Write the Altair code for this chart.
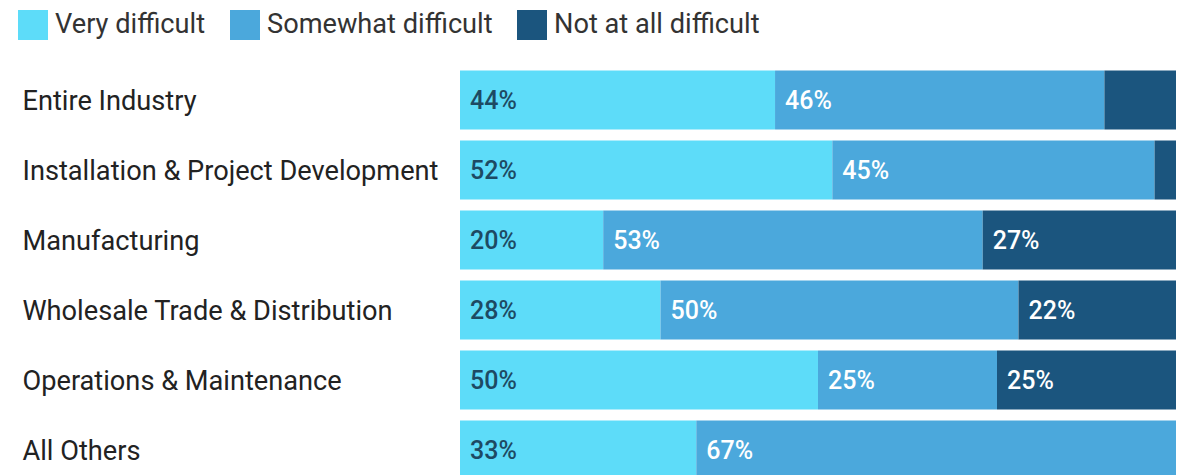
import altair as alt
import pandas as pd

categories = ["Entire Industry", "Installation & Project Development", "Manufacturing",
              "Wholesale Trade & Distribution", "Operations & Maintenance", "All Others"]
series = ["Very difficult", "Somewhat difficult", "Not at all difficult"]
very = [44, 52, 20, 28, 50, 33]
somewhat = [46, 45, 53, 50, 25, 67]
not_at_all = [10, 3, 27, 22, 25, 0]
colors = ["#5ddcf9", "#4ba8dc", "#1b557e"]
text_colors = ["#1d4a63", "#ffffff", "#ffffff"]

rows = []
for i, c in enumerate(categories):
    for j, (s, vals) in enumerate(zip(series, [very, somewhat, not_at_all])):
        v = vals[i]
        rows.append({"category": c, "series": s, "order": j, "value": v,
                     "label": f"{v}%" if v >= 15 else ""})
df = pd.DataFrame(rows)

base = alt.Chart(df).transform_stack(
    stack="value", groupby=["category"], as_=["x0", "x1"],
    sort=[alt.SortField("order", order="ascending")]
)

yenc = alt.Y("category:N", sort=categories, title=None,
             scale=alt.Scale(paddingInner=0.16, paddingOuter=0.08),
             axis=alt.Axis(labelAlign="left", labelPadding=438, labelFontSize=27.2,
                           labelFont="Roboto", labelColor="#222222", domain=False,
                           ticks=False, labelLimit=440, labelBaseline="middle",
                           labelOffset=2))

bars = base.mark_bar().encode(
    x=alt.X("x0:Q", scale=alt.Scale(domain=[0, 100], nice=False), axis=None),
    x2="x1:Q",
    y=yenc,
    color=alt.Color("series:N", sort=series,
                    scale=alt.Scale(domain=series, range=colors),
                    legend=alt.Legend(title=None, orient="none", legendX=-442, legendY=-55,
                                      direction="horizontal", symbolType="square",
                                      symbolSize=900, symbolStrokeWidth=0,
                                      labelFontSize=27.2, labelFont="Roboto",
                                      labelColor="#333333", labelOffset=7,
                                      labelLimit=400,
                                      columnPadding=24, symbolOpacity=1)),
)

text = base.mark_text(align="left", baseline="middle", dx=10, dy=1, fontSize=25,
                      font="Roboto", fontWeight=500).encode(
    x=alt.X("x0:Q"),
    y=alt.Y("category:N", sort=categories),
    text="label:N",
    color=alt.Color("series:N", scale=alt.Scale(domain=series, range=text_colors),
                    legend=None),
)

chart = alt.layer(bars, text).resolve_scale(color="independent").properties(
    width=716, height=420,
    autosize=alt.AutoSizeParams(type="none"),
    padding={"left": 460, "top": 65, "right": 12, "bottom": 0},
).configure_view(stroke=None)

chart.save("out.html", embed_options={"renderer": "svg", "actions": False})
